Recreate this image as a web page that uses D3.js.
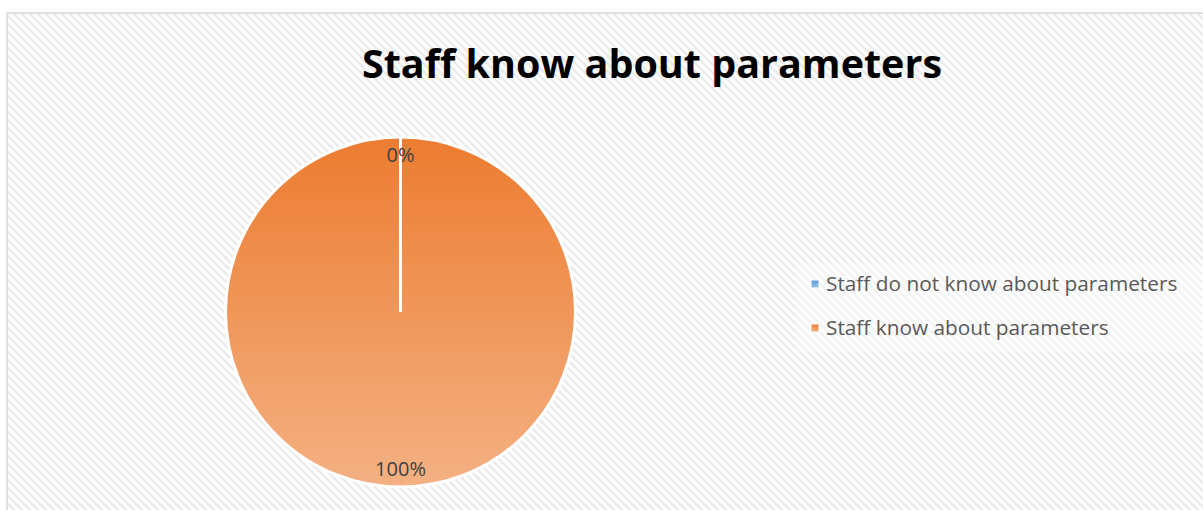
<!DOCTYPE html>
<html>
<head>
<meta charset="utf-8">
<script src="https://cdn.jsdelivr.net/npm/d3@7"></script>
<style>
  html, body { margin: 0; padding: 0; background: #ffffff; }
  svg { display: block; }
</style>
</head>
<body>
<svg id="chart" width="1203" height="510"></svg>
<script>
// Survey result: do staff know about the parameters?
const title = "Staff know about parameters";
const categories = ["Staff do not know about parameters", "Staff know about parameters"];
const values = [0, 100];
const labels = ["0%", "100%"];

const W = 1203, H = 510;
const svg = d3.select("#chart");
const defs = svg.append("defs");

// Hatched chart-area background
const pat = defs.append("pattern")
  .attr("id", "hatch")
  .attr("patternUnits", "userSpaceOnUse")
  .attr("width", 8).attr("height", 8);
pat.append("rect").attr("width", 8).attr("height", 8).attr("fill", "#ffffff");
pat.append("path")
  .attr("d", "M-2,-2 L10,10 M-2,6 L2,10 M6,-2 L10,2")
  .attr("stroke", "#ebebeb").attr("stroke-width", 2.6);

// Slice fills: vertical gradients
const gradSpecs = [
  { id: "gBlue", top: "#5b9bd5", bottom: "#9dc3e6" },
  { id: "gOrange", top: "#ec7c30", bottom: "#f4b183" }
];
gradSpecs.forEach(g => {
  const lg = defs.append("linearGradient")
    .attr("id", g.id).attr("x1", 0).attr("y1", 0).attr("x2", 0).attr("y2", 1);
  lg.append("stop").attr("offset", "0%").attr("stop-color", g.top);
  lg.append("stop").attr("offset", "100%").attr("stop-color", g.bottom);
});
const fills = ["url(#gBlue)", "url(#gOrange)"];
const color = d3.scaleOrdinal().domain(categories).range(fills);

// Chart area
svg.append("rect")
  .attr("x", 7).attr("y", 13).attr("width", W).attr("height", H)
  .attr("fill", "url(#hatch)")
  .attr("stroke", "#d9d9d9").attr("stroke-width", 1.5);

// Title
svg.append("text")
  .attr("x", 652).attr("y", 78)
  .attr("text-anchor", "middle")
  .attr("font-family", "'Open Sans', 'Liberation Sans', sans-serif")
  .attr("font-weight", "bold")
  .attr("font-size", 39.5)
  .attr("fill", "#000000")
  .text(title);

// Pie
const cx = 400.5, cy = 312, R = 175;
const pie = d3.pie().sort(null).value(d => d.value);
const arcs = pie(categories.map((c, i) => ({ cat: c, value: values[i], label: labels[i] })));
const arc = d3.arc().innerRadius(0).outerRadius(R);
const labelArc = d3.arc().innerRadius(157).outerRadius(157);

const g = svg.append("g").attr("transform", `translate(${cx},${cy})`);
g.selectAll("path.slice")
  .data(arcs)
  .join("path")
  .attr("class", "slice")
  .attr("d", arc)
  .attr("fill", d => color(d.data.cat))
  .attr("stroke", "#ffffff")
  .attr("stroke-width", 3)
  .attr("stroke-linejoin", "round");

// White slice borders along each slice's starting radius
g.selectAll("line.sep")
  .data(arcs)
  .join("line")
  .attr("class", "sep")
  .attr("x1", 0).attr("y1", 0)
  .attr("x2", d => R * Math.sin(d.startAngle))
  .attr("y2", d => -R * Math.cos(d.startAngle))
  .attr("stroke", "#ffffff")
  .attr("stroke-width", 3);

g.selectAll("text.lbl")
  .data(arcs)
  .join("text")
  .attr("class", "lbl")
  .attr("transform", d => `translate(${labelArc.centroid(d)})`)
  .attr("text-anchor", "middle")
  .attr("dy", "0.35em")
  .attr("font-family", "'Open Sans', 'Liberation Sans', sans-serif")
  .attr("font-size", 20)
  .attr("fill", "#404040")
  .text(d => d.data.label);

// Legend
const legend = svg.append("g");
legend.append("rect")
  .attr("x", 796).attr("y", 262).attr("width", 420).attr("height", 90)
  .attr("fill", "#ffffff").attr("fill-opacity", 0.4);
const legendY = d3.scalePoint().domain(categories).range([284, 328]);
const items = legend.selectAll("g.item")
  .data(categories)
  .join("g")
  .attr("class", "item")
  .attr("transform", d => `translate(811,${legendY(d)})`);
items.append("rect")
  .attr("x", 0).attr("y", -4).attr("width", 8).attr("height", 8)
  .attr("fill", d => color(d))
  .attr("stroke", "#ffffff").attr("stroke-width", 1);
items.append("text")
  .attr("x", 15).attr("y", 0).attr("dy", "0.35em")
  .attr("font-family", "'Open Sans', 'Liberation Sans', sans-serif")
  .attr("font-size", 20.8)
  .attr("fill", "#595959")
  .text(d => d);
</script>
</body>
</html>
